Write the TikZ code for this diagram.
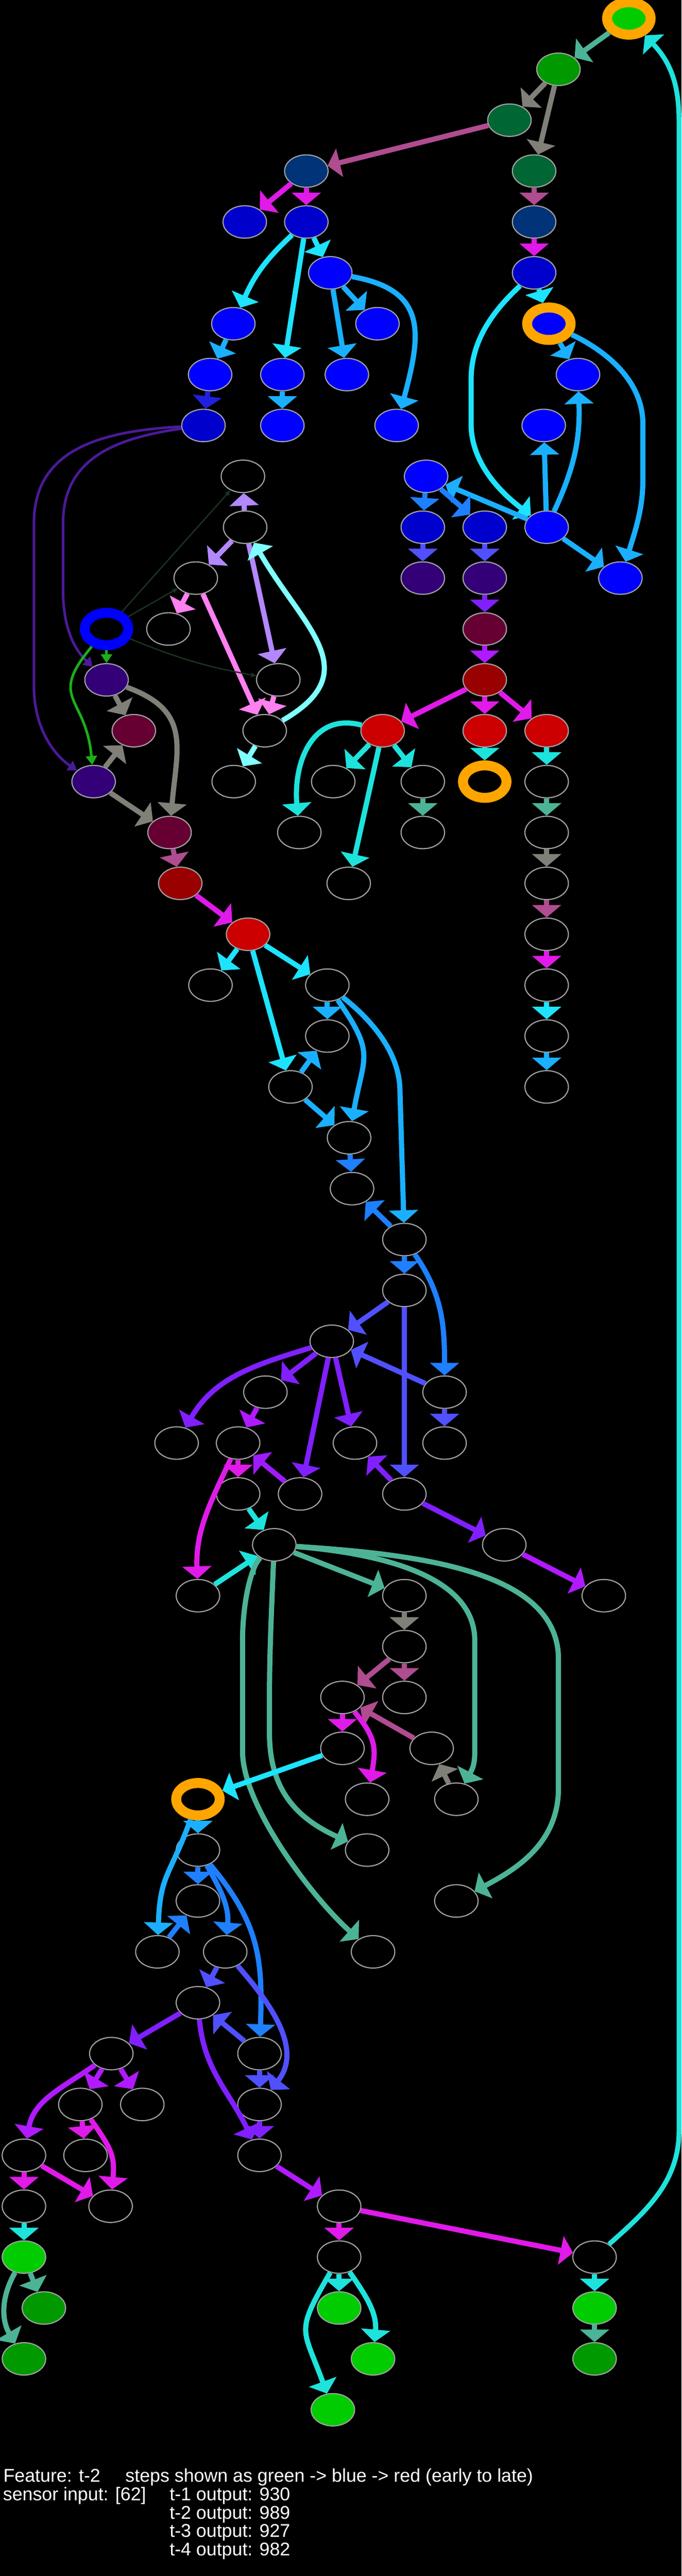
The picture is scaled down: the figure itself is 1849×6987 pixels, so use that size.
\documentclass[tikz,border=0pt]{standalone}
\usepackage{fontspec}
\setmainfont{Liberation Sans}
\usetikzlibrary{arrows.meta,shapes.geometric}

\definecolor{cRim}{HTML}{A3A3A3}
\definecolor{cOrange}{HTML}{FFA500}
\definecolor{gBright}{HTML}{00CC00}
\definecolor{gMid}{HTML}{009900}
\definecolor{gDark}{HTML}{006633}
\definecolor{bNavy}{HTML}{003377}
\definecolor{bDeep}{HTML}{0000CC}
\definecolor{bFull}{HTML}{0000FF}
\definecolor{pDeep}{HTML}{330077}
\definecolor{mDark}{HTML}{660033}
\definecolor{rDark}{HTML}{990000}
\definecolor{rMid}{HTML}{CC0000}
\definecolor{cSea}{HTML}{4DB396}
\definecolor{cGray}{HTML}{808078}
\definecolor{cMauve}{HTML}{B04C90}
\definecolor{cMagenta}{HTML}{E01AE8}
\definecolor{cCyan}{HTML}{1EE3FF}
\definecolor{cTurq}{HTML}{1EE3DC}
\definecolor{cSky}{HTML}{1AB0FF}
\definecolor{cAzure}{HTML}{1E80FF}
\definecolor{cIris}{HTML}{5050FF}
\definecolor{cViolet}{HTML}{8020FF}
\definecolor{cPurple}{HTML}{B01AFF}
\definecolor{cOrchid}{HTML}{A01AFF}
\definecolor{cRoyal}{HTML}{2020E0}
\definecolor{cLav}{HTML}{B388FF}
\definecolor{cPink}{HTML}{FF80F0}
\definecolor{cIce}{HTML}{80FFFF}
\definecolor{cMoss}{HTML}{1A3320}
\definecolor{cLime}{HTML}{1AB01A}
\definecolor{cIndigo}{HTML}{4B1A99}

\tikzset{
  cell/.style={ellipse, draw=cRim, line width=3pt, minimum width=118pt, minimum height=88pt, inner sep=0pt, fill=#1},
  cell/.default=black,
  halo/.style={draw=#1, line width=27pt},
  link/.style={line width=14pt, -{Triangle[length=34pt,width=78pt]}},
  thinlink/.style={line width=7pt, -{Triangle[length=24pt,width=30pt]}},
  hairlink/.style={line width=3.5pt, -{Triangle[length=15pt,width=12pt]}},
  caption/.style={anchor=base west, inner sep=0pt, text=white, font=\fontsize{50}{50}\selectfont}
}

\begin{document}
\begin{tikzpicture}[x=1pt,y=1pt]
\useasboundingbox (0,0) rectangle (1849,-6987);
\fill[black] (0,0) rectangle (1849,-6987);

\node[cell=gBright, halo=cOrange] (n0a) at (1706,-50) {};
\node[cell=gMid] (n1a) at (1515,-188) {};
\node[cell=gDark] (n2a) at (1382,-326) {};
\node[cell=bNavy] (n3a) at (831,-464) {};
\node[cell=gDark] (n3b) at (1449,-464) {};
\node[cell=bDeep] (n4a) at (664,-602) {};
\node[cell=bDeep] (n4b) at (831,-602) {};
\node[cell=bNavy] (n4c) at (1449,-602) {};
\node[cell=bFull] (n5a) at (896,-740) {};
\node[cell=bDeep] (n5b) at (1449,-740) {};
\node[cell=bFull] (n6a) at (633,-878) {};
\node[cell=bFull] (n6b) at (1024,-878) {};
\node[cell=bFull, halo=cOrange] (n6c) at (1489,-878) {};
\node[cell=bFull] (n7a) at (570,-1016) {};
\node[cell=bFull] (n7b) at (766,-1016) {};
\node[cell=bFull] (n7c) at (941,-1016) {};
\node[cell=bFull] (n7d) at (1568,-1016) {};
\node[cell=bDeep] (n8a) at (552,-1154) {};
\node[cell=bFull] (n8b) at (766,-1154) {};
\node[cell=bFull] (n8c) at (1076,-1154) {};
\node[cell=bFull] (n8d) at (1475,-1154) {};
\node[cell] (n9a) at (659,-1292) {};
\node[cell=bFull] (n9b) at (1156,-1292) {};
\node[cell] (n10a) at (665,-1430) {};
\node[cell=bDeep] (n10b) at (1147,-1430) {};
\node[cell=bDeep] (n10c) at (1315,-1430) {};
\node[cell=bFull] (n10d) at (1483,-1430) {};
\node[cell] (n11a) at (531,-1568) {};
\node[cell=pDeep] (n11b) at (1147,-1568) {};
\node[cell=pDeep] (n11c) at (1315,-1568) {};
\node[cell=bFull] (n11d) at (1683,-1568) {};
\node[cell, halo=bFull] (n12a) at (289,-1706) {};
\node[cell] (n12b) at (457,-1706) {};
\node[cell=mDark] (n12c) at (1315,-1706) {};
\node[cell=pDeep] (n13a) at (289,-1844) {};
\node[cell] (n13b) at (755,-1844) {};
\node[cell=rDark] (n13c) at (1315,-1844) {};
\node[cell=mDark] (n14a) at (363,-1982) {};
\node[cell] (n14b) at (718,-1982) {};
\node[cell=rMid] (n14c) at (1038,-1982) {};
\node[cell=rMid] (n14d) at (1315,-1982) {};
\node[cell=rMid] (n14e) at (1483,-1982) {};
\node[cell=pDeep] (n15a) at (254,-2120) {};
\node[cell] (n15b) at (634,-2120) {};
\node[cell] (n15c) at (904,-2120) {};
\node[cell] (n15d) at (1147,-2120) {};
\node[cell, halo=cOrange] (n15e) at (1315,-2120) {};
\node[cell] (n15f) at (1483,-2120) {};
\node[cell=mDark] (n16a) at (460,-2258) {};
\node[cell] (n16b) at (812,-2258) {};
\node[cell] (n16c) at (1147,-2258) {};
\node[cell] (n16d) at (1483,-2258) {};
\node[cell=rDark] (n17a) at (489,-2396) {};
\node[cell] (n17b) at (946,-2396) {};
\node[cell] (n17c) at (1483,-2396) {};
\node[cell=rMid] (n18a) at (673,-2534) {};
\node[cell] (n18b) at (1483,-2534) {};
\node[cell] (n19a) at (571,-2672) {};
\node[cell] (n19b) at (888,-2672) {};
\node[cell] (n19c) at (1483,-2672) {};
\node[cell] (n20a) at (888,-2810) {};
\node[cell] (n20b) at (1483,-2810) {};
\node[cell] (n21a) at (788,-2948) {};
\node[cell] (n21b) at (1483,-2948) {};
\node[cell] (n22a) at (947,-3086) {};
\node[cell] (n23a) at (955,-3224) {};
\node[cell] (n24a) at (1097,-3362) {};
\node[cell] (n25a) at (1097,-3500) {};
\node[cell] (n26a) at (900,-3638) {};
\node[cell] (n27a) at (720,-3776) {};
\node[cell] (n27b) at (1206,-3776) {};
\node[cell] (n28a) at (479,-3914) {};
\node[cell] (n28b) at (646,-3914) {};
\node[cell] (n28c) at (963,-3914) {};
\node[cell] (n28d) at (1206,-3914) {};
\node[cell] (n29a) at (646,-4052) {};
\node[cell] (n29b) at (814,-4052) {};
\node[cell] (n29c) at (1097,-4052) {};
\node[cell] (n30a) at (744,-4190) {};
\node[cell] (n30b) at (1368,-4190) {};
\node[cell] (n31a) at (537,-4328) {};
\node[cell] (n31b) at (1097,-4328) {};
\node[cell] (n31c) at (1638,-4328) {};
\node[cell] (n32a) at (1097,-4466) {};
\node[cell] (n33a) at (929,-4604) {};
\node[cell] (n33b) at (1097,-4604) {};
\node[cell] (n34a) at (929,-4742) {};
\node[cell] (n34b) at (1171,-4742) {};
\node[cell, halo=cOrange] (n35a) at (537,-4880) {};
\node[cell] (n35b) at (996,-4880) {};
\node[cell] (n35c) at (1238,-4880) {};
\node[cell] (n36a) at (537,-5018) {};
\node[cell] (n36b) at (996,-5018) {};
\node[cell] (n37a) at (537,-5156) {};
\node[cell] (n37b) at (1238,-5156) {};
\node[cell] (n38a) at (427,-5294) {};
\node[cell] (n38b) at (611,-5294) {};
\node[cell] (n38c) at (1012,-5294) {};
\node[cell] (n39a) at (537,-5432) {};
\node[cell] (n40a) at (302,-5570) {};
\node[cell] (n40b) at (704,-5570) {};
\node[cell] (n41a) at (218,-5708) {};
\node[cell] (n41b) at (386,-5708) {};
\node[cell] (n41c) at (704,-5708) {};
\node[cell] (n42a) at (65,-5846) {};
\node[cell] (n42b) at (232,-5846) {};
\node[cell] (n42c) at (704,-5846) {};
\node[cell] (n43a) at (65,-5984) {};
\node[cell] (n43b) at (300,-5984) {};
\node[cell] (n43c) at (920,-5984) {};
\node[cell=gBright] (n44a) at (65,-6122) {};
\node[cell] (n44b) at (920,-6122) {};
\node[cell] (n44c) at (1613,-6122) {};
\node[cell=gMid] (n45a) at (119,-6260) {};
\node[cell=gBright] (n45b) at (920,-6260) {};
\node[cell=gBright] (n45c) at (1613,-6260) {};
\node[cell=gMid] (n46a) at (65,-6398) {};
\node[cell=gBright] (n46b) at (1012,-6398) {};
\node[cell=gMid] (n46c) at (1613,-6398) {};
\node[cell=gBright] (n47a) at (903,-6536) {};

% upper part
\draw[link,cSea] (n0a) -- (n1a);
\draw[link,cGray] (n1a) -- (n2a);
\draw[link,cGray] (n1a) -- (n3b);
\draw[link,cMauve] (n2a) -- (n3a);
\draw[link,cMagenta] (n3a) -- (n4a);
\draw[link,cMagenta] (n3a) -- (n4b);
\draw[link,cMauve] (n3b) -- (n4c);
\draw[link,cMagenta] (n4c) -- (n5b);
\draw[link,cCyan] (n4b) to[bend right=12] (n6a);
\draw[link,cCyan] (n4b) -- (n7b);
\draw[link,cCyan] (n4b) -- (n5a);
\draw[link,cSky] (n5a) -- (n6b);
\draw[link,cSky] (n5a) -- (n7c);
\draw[link,cSky] (n5a) to[out=-10,in=75,looseness=1.4] (n8c);
\draw[link,cSky] (n6a) -- (n7a);
\draw[link,cRoyal] (n7a) -- (n8a);
\draw[link,cSky] (n7b) -- (n8b);
\draw[link,cCyan] (n5b) -- (n6c);
\draw[link,cCyan] (n5b) .. controls (1330,-850) and (1278,-930) .. (1278,-1030) -- (1278,-1150) .. controls (1278,-1250) and (1350,-1330) .. (n10d);
\draw[link,cSky] (n6c) -- (n7d);
\draw[link,cSky] (n6c) .. controls (1640,-950) and (1744,-1030) .. (1744,-1150) -- (1744,-1300) .. controls (1744,-1370) and (1730,-1420) .. (n11d);
\draw[link,cSky] (n10d) to[out=65,in=-88] (n7d);
\draw[link,cSky] (n10d) -- (n8d);
\draw[link,cSky] (n10d) -- (n9b);
\draw[link,cAzure] (n9b) -- (n10b);
\draw[link,cAzure] (n9b) -- (n10c);
\draw[link,cSky] (n10d) -- (n11d);
\draw[link,cIris] (n10b) -- (n11b);
\draw[link,cIris] (n10c) -- (n11c);
\draw[link,cViolet] (n11c) -- (n12c);
\draw[link,cPurple] (n12c) -- (n13c);
\draw[link,cMagenta] (n13c) -- (n14c);
\draw[link,cMagenta] (n13c) -- (n14d);
\draw[link,cMagenta] (n13c) -- (n14e);
\draw[link,cTurq] (n14c) to[out=165,in=95,looseness=1.2] (n16b);
\draw[link,cTurq] (n14c) -- (n15c);
\draw[link,cTurq] (n14c) -- (n15d);
\draw[link,cTurq] (n14c) -- (n17b);
\draw[link,cTurq] (n14d) -- (n15e);
\draw[link,cTurq] (n14e) -- (n15f);
\draw[link,cSea] (n15d) -- (n16c);
\draw[link,cSea] (n15f) -- (n16d);
\draw[link,cGray] (n16d) -- (n17c);
\draw[link,cMauve] (n17c) -- (n18b);
\draw[link,cMagenta] (n18b) -- (n19c);
\draw[link,cCyan] (n19c) -- (n20b);
\draw[link,cSky] (n20b) -- (n21b);

% left cluster
\draw[thinlink,cIndigo] (n8a) .. controls (300,-1190) and (171,-1250) .. (171,-1420) -- (171,-1600) .. controls (171,-1700) and (200,-1760) .. (n13a);
\draw[thinlink,cIndigo] (n8a) .. controls (250,-1170) and (92,-1230) .. (92,-1420) -- (92,-1860) .. controls (92,-1980) and (150,-2050) .. (n15a);
\draw[link,cLav] (n10a) -- (n9a);
\draw[link,cLav] (n10a) -- (n11a);
\draw[link,cLav] (n10a) -- (n13b);
\draw[link,cIce] (n14b) to[out=30,in=-60,looseness=1.4] (n10a);
\draw[link,cPink] (n11a) -- (n12b);
\draw[link,cPink] (n11a) -- (n14b);
\draw[link,cPink] (n13b) -- (n14b);
\draw[hairlink,cMoss] (n12a) -- (n9a);
\draw[hairlink,cMoss] (n12a) -- (n11a);
\draw[hairlink,cMoss] (n12a) to[bend right=6] (n13b);
\draw[thinlink,cLime] (n12a) -- (n13a);
\draw[thinlink,cLime] (n12a) to[out=-130,in=95,looseness=1.5] (n15a);
\draw[link,cGray] (n13a) -- (n14a);
\draw[link,cGray] (n13a) to[out=-20,in=85,looseness=1.3] (n16a);
\draw[link,cGray] (n15a) -- (n14a);
\draw[link,cGray] (n15a) -- (n16a);
\draw[link,cMauve] (n16a) -- (n17a);
\draw[link,cIce] (n14b) -- (n15b);

% middle part
\draw[link,cMagenta] (n17a) -- (n18a);
\draw[link,cCyan] (n18a) -- (n19a);
\draw[link,cCyan] (n18a) -- (n19b);
\draw[link,cCyan] (n18a) -- (n21a);
\draw[link,cSky] (n19b) -- (n20a);
\draw[link,cSky] (n19b) to[out=-55,in=80,looseness=1.4] (n22a);
\draw[link,cSky] (n19b) .. controls (1000,-2760) and (1085,-2850) .. (1085,-2960) -- (n24a);
\draw[link,cSky] (n21a) -- (n20a);
\draw[link,cSky] (n21a) -- (n22a);
\draw[link,cAzure] (n22a) -- (n23a);
\draw[link,cAzure] (n24a) -- (n23a);
\draw[link,cAzure] (n24a) -- (n25a);
\draw[link,cAzure] (n24a) to[out=-55,in=90] (n27b);
\draw[link,cIris] (n25a) -- (n26a);
\draw[link,cIris] (n25a) -- (n29c);
\draw[link,cIris] (n27b) -- (n26a);
\draw[link,cIris] (n27b) -- (n28d);
\draw[link,cViolet] (n26a) -- (n27a);
\draw[link,cViolet] (n26a) to[out=197,in=60] (n28a);
\draw[link,cViolet] (n26a) -- (n28c);
\draw[link,cViolet] (n26a) -- (n29b);
\draw[link,cPurple] (n27a) -- (n28b);
\draw[link,cMagenta] (n28b) -- (n29a);
\draw[link,cMagenta] (n28b) to[out=-115,in=92] (n31a);
\draw[link,cOrchid] (n29b) -- (n28b);
\draw[link,cViolet] (n29c) -- (n28c);
\draw[link,cViolet] (n29c) -- (n30b);
\draw[link,cPurple] (n30b) -- (n31c);
\draw[link,cTurq] (n29a) -- (n30a);
\draw[link,cTurq] (n31a) -- (n30a);
\draw[link,cSea] (n30a) -- (n31b);
\draw[link,cSea] (n30a) .. controls (1050,-4215) and (1288,-4280) .. (1288,-4450) -- (1288,-4750) .. controls (1288,-4790) and (1280,-4800) .. (n35c);
\draw[link,cSea] (n30a) .. controls (1100,-4215) and (1515,-4250) .. (1515,-4500) -- (1515,-4850) .. controls (1515,-5000) and (1400,-5070) .. (n37b);
\draw[link,cSea] (n30a) .. controls (735,-4400) and (731,-4500) .. (731,-4600) -- (731,-4700) .. controls (731,-4850) and (800,-4930) .. (n36b);
\draw[link,cSea] (n30a) .. controls (680,-4250) and (658,-4350) .. (658,-4450) -- (658,-4750) .. controls (658,-4900) and (850,-5150) .. (n38c);
\draw[link,cGray] (n31b) -- (n32a);
\draw[link,cMauve] (n32a) -- (n33a);
\draw[link,cMauve] (n32a) -- (n33b);
\draw[link,cMauve] (n34b) -- (n33a);
\draw[link,cMagenta] (n33a) -- (n34a);
\draw[link,cMagenta] (n33a) to[out=-50,in=80,looseness=1.2] (n35b);
\draw[link,cGray] (n35c) -- (n34b);
\draw[link,cCyan] (n34a) -- (n35a);

% lower part
\draw[link,cSky] (n35a) -- (n36a);
\draw[link,cSky] (n35a) to[out=-110,in=88,looseness=1.3] (n38a);
\draw[link,cAzure] (n36a) -- (n37a);
\draw[link,cAzure] (n36a) to[out=-60,in=85] (n38b);
\draw[link,cAzure] (n36a) to[out=-50,in=88,looseness=1.1] (n40b);
\draw[link,cAzure] (n38a) -- (n37a);
\draw[link,cIris] (n38b) -- (n39a);
\draw[link,cIris] (n38b) .. controls (740,-5440) and (820,-5560) .. (n41c);
\draw[link,cIris] (n40b) -- (n39a);
\draw[link,cIris] (n40b) -- (n41c);
\draw[link,cViolet] (n39a) -- (n40a);
\draw[link,cViolet] (n39a) to[out=-85,in=115] (n42c);
\draw[link,cViolet] (n41c) -- (n42c);
\draw[link,cPurple] (n40a) -- (n41a);
\draw[link,cPurple] (n40a) -- (n41b);
\draw[link,cPurple] (n40a) to[out=215,in=80] (n42a);
\draw[link,cMagenta] (n41a) -- (n42b);
\draw[link,cMagenta] (n41a) to[out=-55,in=85,looseness=1.2] (n43b);
\draw[link,cMagenta] (n42a) -- (n43a);
\draw[link,cMagenta] (n42a) -- (n43b);
\draw[link,cPurple] (n42c) -- (n43c);
\draw[link,cMagenta] (n43c) -- (n44b);
\draw[link,cMagenta] (n43c) -- (n44c);
\draw[link,cTurq] (n43a) -- (n44a);
\draw[link,cSea] (n44a) -- (n45a);
\draw[link,cSea] (n44a) to[bend right=30] (n46a);
\draw[link,cTurq] (n44b) -- (n45b);
\draw[link,cTurq] (n44b) to[out=-55,in=85] (n46b);
\draw[link,cTurq] (n44b) to[out=-120,in=110,looseness=1.5] (n47a);
\draw[link,cTurq] (n44c) -- (n45c);
\draw[link,cSea] (n45c) -- (n46c);
\draw[link,cTurq,line width=13pt] (n44c) .. controls (1750,-6000) and (1842,-5920) .. (1842,-5780) -- (1842,-330) .. controls (1842,-230) and (1820,-170) .. (n0a);

\node[caption] (cap1) at (9,-6732) {Feature: t-2};
\node[caption] (cap2) at (340,-6732) {steps shown as green -> blue -> red (early to late)};
\node[caption] (cap3) at (8,-6782) {sensor input: [62]};
\node[caption] (cap4) at (460,-6782) {t-1 output: 930};
\node[caption] (cap5) at (460,-6832) {t-2 output: 989};
\node[caption] (cap6) at (460,-6882) {t-3 output: 927};
\node[caption] (cap7) at (460,-6932) {t-4 output: 982};
\end{tikzpicture}
\end{document}
